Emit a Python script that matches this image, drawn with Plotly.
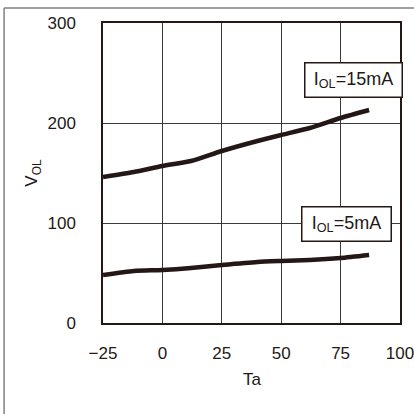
import plotly.graph_objects as go

ta = [-25, -12, 0, 12, 25, 40, 50, 62, 75, 87]
vol_15ma = [146, 151, 157, 162, 172, 182, 188, 195, 205, 213]
vol_5ma = [48, 52, 53, 55, 58, 61, 62, 63, 65, 68]
x_ticks = [-25, 0, 25, 50, 75, 100]
y_ticks = [0, 100, 200, 300]
labels = ["I<sub>OL</sub>=15mA", "I<sub>OL</sub>=5mA"]

FONT = "Liberation Sans"
LINE = "#231815"

fig = go.Figure()
for ys in (vol_15ma, vol_5ma):
    fig.add_trace(go.Scatter(x=ta, y=ys, mode="lines", line=dict(color=LINE, width=4.5, shape="spline", smoothing=0.6),
                             showlegend=False, hoverinfo="skip"))

fig.update_layout(
    width=414, height=414,
    margin=dict(l=103, r=14, t=23, b=91, autoexpand=False),
    paper_bgcolor="white", plot_bgcolor="white",
    font=dict(family=FONT, size=17, color="#231815"),
    xaxis=dict(range=[-25, 100], tickvals=x_ticks, ticktext=["\u221225" if v < 0 else str(v) for v in x_ticks],
               showgrid=True, gridcolor="#3a3a3a", gridwidth=1, zeroline=False,
               showline=True, linecolor="#231815", linewidth=1.5, mirror=True, automargin=False,
               ticks="", ticklabelstandoff=14, ticklabeloverflow="allow", fixedrange=True),
    yaxis=dict(range=[0, 300], tickvals=y_ticks, showgrid=True, gridcolor="#3a3a3a", gridwidth=1, zeroline=False,
               showline=True, linecolor="#231815", linewidth=1.5, mirror=True, automargin=False,
               ticks="", ticklabelstandoff=22, ticklabeloverflow="allow", fixedrange=True),
    shapes=[
        dict(type="line", xref="paper", yref="paper", x0=-0.333, x1=-0.333, y0=1.05, y1=-0.31,
             line=dict(color="#808080", width=1.5)),
        dict(type="line", xref="paper", yref="paper", x0=-0.333, x1=1.05, y0=1.05, y1=1.05,
             line=dict(color="#808080", width=1.5)),
    ],
    annotations=[
        dict(x=80.4, y=242.8, xref="x", yref="y", text=labels[0], showarrow=False,
             bgcolor="white", bordercolor="#231815", borderwidth=1.5, width=94, height=31,
             font=dict(family=FONT, size=18)),
        dict(x=77.5, y=98.8, xref="x", yref="y", text=labels[1], showarrow=False,
             bgcolor="white", bordercolor="#231815", borderwidth=1.5, width=86, height=31,
             font=dict(family=FONT, size=18)),
        dict(x=(252 - 103) / 297, y=(323.3 - 380) / 300, xref="paper", yref="paper", text="Ta",
             xanchor="center", yanchor="middle",
             showarrow=False, font=dict(family=FONT, size=17)),
        dict(x=(33 - 103) / 297, y=(323.3 - 173) / 300, xref="paper", yref="paper", text="V<sub>OL</sub>",
             xanchor="center", yanchor="middle",
             showarrow=False, textangle=-90, font=dict(family=FONT, size=17)),
    ],
)

fig.write_html("out.html", config={"displayModeBar": False},
               post_script="document.body.style.margin='0px';document.body.style.overflow='hidden';")
